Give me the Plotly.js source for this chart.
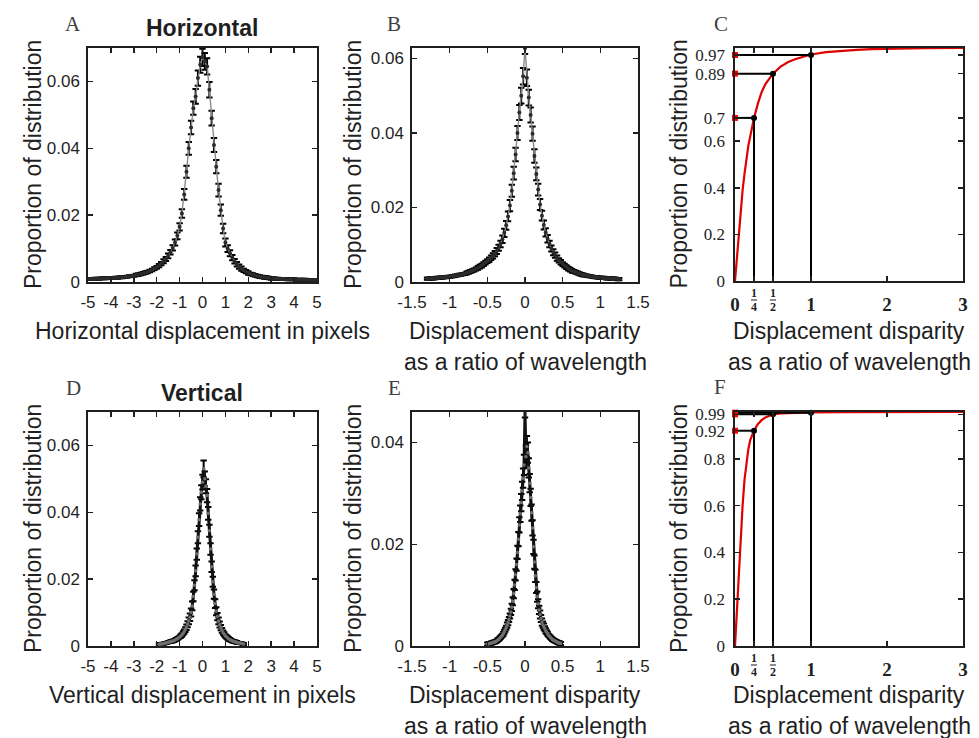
<!DOCTYPE html>
<html><head><meta charset="utf-8">
<script src="https://cdn.plot.ly/plotly-3.0.1.min.js"></script>
<style>html,body{margin:0;padding:0;background:#fff}#chart{width:979px;height:738px}</style>
</head><body><div id="chart"></div>
<script>
// ---------- DATA ----------
// Panel A: horizontal displacement (pixels), bins start/step
const horizBinStart = -5, horizBinStep = 0.1;
const horizProportion = [
 .0009,.0009,.0009,.0010,.0010,.0010,.0011,.0011,.0011,.0012,
 .0012,.0012,.0013,.0013,.0014,.0014,.0015,.0016,.0017,.0018,
 .0019,.0021,.0022,.0024,.0026,.0028,.0030,.0033,.0036,.0040,
 .0044,.0049,.0055,.0062,.0069,.0078,.0089,.0102,.0118,.0138,
 .0165,.0205,.0262,.0330,.0400,.0462,.0520,.0555,.0610,.0650,
 .0672,
 .0660,.0645,.0575,.0490,.0410,.0345,.0275,.0215,.0160,.0118,
 .0100,.0086,.0073,.0062,.0053,.0046,.0040,.0035,.0031,.0027,
 .0024,.0022,.0020,.0018,.0016,.0015,.0014,.0013,.0012,.0011,
 .0011,.0010,.0010,.0009,.0009,.0009,.0008,.0008,.0008,.0008,
 .0007,.0007,.0007,.0007,.0007,.0006,.0006,.0006,.0006,.0006];
const horizError = [
 .0003,.0003,.0003,.0003,.0003,.0003,.0003,.0003,.0003,.0003,
 .0003,.0003,.0003,.0003,.0003,.0003,.0003,.0003,.0003,.0003,
 .0003,.0004,.0004,.0004,.0004,.0004,.0004,.0004,.0004,.0004,
 .0004,.0005,.0005,.0006,.0006,.0007,.0007,.0008,.0009,.0010,
 .0011,.0013,.0016,.0018,.0019,.0020,.0020,.0022,.0023,.0024,
 .0026,
 .0025,.0024,.0023,.0022,.0021,.0020,.0019,.0017,.0014,.0012,
 .0010,.0009,.0008,.0007,.0007,.0006,.0006,.0005,.0005,.0005,
 .0004,.0004,.0004,.0004,.0004,.0004,.0004,.0004,.0004,.0004,
 .0003,.0003,.0003,.0003,.0003,.0003,.0003,.0003,.0003,.0003,
 .0003,.0003,.0003,.0003,.0003,.0003,.0003,.0003,.0003,.0003];

// Panel B: horizontal displacement disparity (ratio of wavelength)
const horizDispBinStart = -1.3, horizDispBinStep = 0.025;
const horizDispProportion = [
 .0009,.0009,.0010,.0010,.0010,.0011,.0011,.0012,.0012,.0013,
 .0013,.0014,.0014,.0015,.0016,.0017,.0018,.0019,.0020,.0021,
 .0022,.0024,.0026,.0028,.0030,.0032,.0035,.0038,.0041,.0044,
 .0048,.0052,.0056,.0060,.0065,.0070,.0076,.0083,.0092,.0102,
 .0115,.0132,.0152,.0176,.0205,.0245,.0292,.0342,.0400,.0455,
 .0500,.0552,.0627,
 .0548,.0495,.0448,.0398,.0338,.0290,.0248,.0208,.0178,.0153,
 .0133,.0116,.0102,.0090,.0080,.0072,.0064,.0058,.0053,.0048,
 .0044,.0040,.0036,.0033,.0030,.0028,.0026,.0024,.0022,.0020,
 .0019,.0018,.0017,.0016,.0015,.0014,.0013,.0013,.0012,.0012,
 .0011,.0011,.0010,.0010,.0010,.0009,.0009,.0009,.0008,.0008];
const horizDispError = [
 .0003,.0003,.0003,.0003,.0003,.0003,.0003,.0003,.0003,.0003,
 .0003,.0003,.0003,.0003,.0003,.0003,.0003,.0003,.0003,.0003,
 .0003,.0004,.0004,.0004,.0004,.0004,.0004,.0005,.0005,.0005,
 .0005,.0005,.0005,.0006,.0006,.0007,.0007,.0008,.0008,.0009,
 .0010,.0011,.0012,.0013,.0015,.0016,.0017,.0018,.0019,.0020,
 .0021,.0022,.0015,
 .0022,.0021,.0020,.0019,.0018,.0017,.0016,.0015,.0013,.0012,
 .0011,.0010,.0009,.0008,.0008,.0007,.0007,.0006,.0006,.0005,
 .0005,.0005,.0005,.0005,.0005,.0004,.0004,.0004,.0004,.0004,
 .0004,.0003,.0003,.0003,.0003,.0003,.0003,.0003,.0003,.0003,
 .0003,.0003,.0003,.0003,.0003,.0003,.0003,.0003,.0003,.0003];

// Panel C: cumulative distribution of |horizontal disparity|
const horizCdfX = [0,0.025,0.05,0.075,0.1,0.125,0.15,0.175,0.2,0.225,0.25,0.3,0.35,0.4,0.45,0.5,0.6,0.7,0.8,0.9,1.0,1.2,1.4,1.6,1.8,2.0,2.5,3.0];
const horizCdfY = [0,0.1,0.2,0.3,0.39,0.46,0.53,0.58,0.62,0.665,0.70,0.76,0.81,0.845,0.87,0.89,0.92,0.94,0.953,0.963,0.972,0.982,0.988,0.992,0.995,0.997,0.999,1.0];
const horizMarkX = [0.25, 0.5, 1];
const horizMarkY = [0.70, 0.89, 0.97];
const horizCdfYTicks = [0, 0.2, 0.4, 0.6, 0.7, 0.89, 0.97];
const horizCdfYLabels = ['0','0.2','0.4','0.6','0.7','0.89','0.97'];

// Panel D: vertical displacement (pixels)
const vertBinStart = -1.9, vertBinStep = 0.05;
const vertProportion = [
 .0005,.0006,.0006,.0007,.0007,.0008,.0009,.0010,.0011,.0012,
 .0013,.0014,.0015,.0016,.0018,.0020,.0022,.0024,.0027,.0030,
 .0033,.0038,.0043,.0049,.0056,.0065,.0075,.0086,.0100,.0120,
 .0148,.0182,.0225,.0275,.0325,.0378,.0425,.0460,
 .0490,.0530,.0500,.0478,.0450,.0397,.0345,.0290,.0237,.0192,
 .0155,.0127,.0104,.0088,.0075,.0064,.0055,.0047,.0040,.0035,
 .0030,.0027,.0024,.0021,.0019,.0017,.0015,.0014,.0013,.0012,
 .0011,.0010,.0009,.0009,.0008,.0007,.0006];
const vertError = [
 .0003,.0003,.0003,.0003,.0003,.0003,.0003,.0003,.0003,.0003,
 .0004,.0004,.0004,.0004,.0004,.0004,.0004,.0004,.0004,
 .0005,.0005,.0006,.0006,.0007,.0008,.0009,.0010,.0011,
 .0012,.0013,.0014,.0015,.0016,.0017,.0018,.0019,.0020,.0021,
 .0022,.0025,.0022,.0021,.0020,.0019,.0018,.0017,.0016,.0015,.0014,
 .0013,.0012,.0011,.0010,.0009,.0008,.0007,.0006,.0006,
 .0005,.0005,.0005,.0005,.0005,.0004,.0004,.0004,.0004,.0004,.0004,
 .0003,.0003,.0003,.0003,.0003,.0003];

// Panel E: vertical displacement disparity (ratio of wavelength)
const vertDispBinStart = -0.5, vertDispBinStep = 0.0125;
const vertDispProportion = [
 .0004,.0004,.0005,.0005,.0006,.0006,.0007,.0008,.0008,.0009,
 .0010,.0012,.0013,.0015,.0017,.0019,.0021,.0024,.0028,.0032,
 .0036,.0041,.0046,.0052,.0059,.0067,.0076,.0088,.0103,.0120,
 .0140,.0160,.0184,.0210,.0238,.0260,.0282,.0305,.0330,.0356,
 .0459,
 .0372,.0392,.0380,.0350,.0320,.0292,.0262,.0232,.0195,.0165,
 .0138,.0115,.0097,.0083,.0071,.0062,.0054,.0047,.0042,.0038,
 .0034,.0030,.0027,.0024,.0021,.0019,.0017,.0015,.0013,.0012,
 .0011,.0010,.0009,.0008,.0007,.0006,.0006,.0005];
const vertDispError = [
 .0003,.0003,.0003,.0003,.0003,.0003,.0003,.0003,.0003,.0003,
 .0003,.0003,.0003,.0003,.0003,.0003,.0003,
 .0004,.0004,.0004,.0004,.0005,.0005,.0005,.0005,
 .0006,.0007,.0008,.0009,.0010,.0011,.0012,.0013,.0014,.0015,
 .0016,.0017,.0018,.0019,.0020,
 .0010,
 .0022,.0021,.0020,.0019,.0018,.0017,.0016,.0015,.0014,.0013,
 .0012,.0011,.0010,.0009,
 .0008,.0008,.0007,.0007,.0006,.0006,.0005,.0005,.0004,.0004,
 .0003,.0003,.0003,.0003,.0003,.0003,.0003,.0003,.0003,.0003,
 .0003,.0003,.0003,.0003];

// Panel F: cumulative distribution of |vertical disparity|
const vertCdfX = [0,0.0125,0.025,0.0375,0.05,0.075,0.1,0.125,0.15,0.175,0.2,0.25,0.3,0.35,0.4,0.5,0.6,0.8,1.0,1.5,2.0,3.0];
const vertCdfY = [0,0.08,0.15,0.22,0.3,0.45,0.6,0.71,0.79,0.84,0.88,0.92,0.948,0.965,0.977,0.99,0.994,0.997,0.998,0.999,1.0,1.0];
const vertMarkX = [0.25, 0.5, 1];
const vertMarkY = [0.92, 0.99, 0.997];
const vertCdfYTicks = [0, 0.2, 0.4, 0.6, 0.8, 0.92, 0.99];
const vertCdfYLabels = ['0','0.2','0.4','0.6','0.8','0.92','0.99'];

// Tick labels
const pixelTicks = [-5,-4,-3,-2,-1,0,1,2,3,4,5];
const pixelTickLabels = ['-5','-4','-3','-2','-1','0','1','2','3','4','5'];
const ratioTicks = [-1.5,-1,-0.5,0,0.5,1,1.5];
const ratioTickLabels = ['-1.5','-1','-0.5','0','0.5','1','1.5'];
const propTicks = [0,0.02,0.04,0.06];
const propTickLabels = ['0','0.02','0.04','0.06'];
const cdfXTicks = [0,0.25,0.5,1,2,3];
const cdfXTickLabels = ['0','','','1','2','3'];
const fracTickVals = [0.25, 0.5];
const fracNumer = ['1','1'];
const fracDenom = ['4','2'];

// Texts
const panelLetters = ['A','B','C','D','E','F'];
const rowTitles = ['Horizontal','Vertical'];
const yTitle = 'Proportion of distribution';
const xTitlesPixels = ['Horizontal displacement in pixels','Vertical displacement in pixels'];
const xTitleRatio = ['Displacement disparity','as a ratio of wavelength'];

// ---------- LAYOUT ----------
const W = 979, H = 738;
const px = v => v / W, py = v => 1 - v / H;
// plot boxes in pixels [left,right,top,bottom]
const boxes = [[88,317,48,282],[412,638,48,282],[735,963,48,281],[88,317,412,646],[412,638,412,646],[735,963,412,646]];

function bins(start, step, n){ const a=[]; for(let i=0;i<n;i++) a.push(+(start+i*step).toFixed(5)); return a; }

const sans = 'Liberation Sans, Arial, Helvetica, sans-serif';
const serif = 'Liberation Serif, Times New Roman, serif';
const ink = '#1f1f1f';

const axisBase = {showline:true, mirror:'ticks', linecolor:ink, linewidth:1.7, ticks:'inside', ticklen:5,
  tickwidth:1.5, tickcolor:ink, showgrid:false, zeroline:false, fixedrange:true,
  tickfont:{family:sans, size:17, color:ink}};

const layout = {width:W, height:H, margin:{l:0,r:0,t:0,b:0}, paper_bgcolor:'#fff', plot_bgcolor:'#fff',
  showlegend:false, annotations:[], shapes:[]};

function ax(i){ return i===0 ? '' : String(i+1); }

boxes.forEach((b,i)=>{
  layout['xaxis'+ax(i)] = Object.assign({}, axisBase, {domain:[px(b[0]),px(b[1])], anchor:'y'+ax(i), ticklabelstandoff:4});
  layout['yaxis'+ax(i)] = Object.assign({}, axisBase, {domain:[py(b[3]),py(b[2])], anchor:'x'+ax(i), ticklabelstandoff:3});
});

[0,3].forEach(i=>{
  Object.assign(layout['xaxis'+ax(i)], {range:[-5,5], tickvals:pixelTicks, ticktext:pixelTickLabels});
  Object.assign(layout['yaxis'+ax(i)], {range:[0,0.07], tickvals:propTicks, ticktext:propTickLabels});
});
[1,4].forEach(i=>{
  Object.assign(layout['xaxis'+ax(i)], {range:[-1.5,1.5], tickvals:ratioTicks, ticktext:ratioTickLabels});
});
Object.assign(layout.yaxis2, {range:[0,0.0628], tickvals:propTicks, ticktext:propTickLabels});
Object.assign(layout.yaxis5, {range:[0,0.046], tickvals:propTicks.slice(0,3), ticktext:propTickLabels.slice(0,3)});

const cdfXFont = {family:serif, size:19, color:ink, weight:'bold'};
const cdfYFont = {family:serif, size:17, color:ink};
[[2,horizCdfYTicks,horizCdfYLabels],[5,vertCdfYTicks,vertCdfYLabels]].forEach(([i,tv,tt])=>{
  Object.assign(layout['xaxis'+ax(i)], {range:[0,3], tickvals:cdfXTicks, ticktext:cdfXTickLabels, tickfont:cdfXFont, ticklabelstandoff:5});
  Object.assign(layout['yaxis'+ax(i)], {range:[0,1], tickvals:tv, ticktext:tt, tickfont:cdfYFont, ticklabelstandoff:5});
});

// ---------- TRACES ----------
const traces = [];
function distTrace(start, step, y, err, i, dense){
  return {type:'scatter', mode:'lines+markers', x:bins(start,step,y.length), y:y,
    xaxis:'x'+ax(i), yaxis:'y'+ax(i),
    line: dense ? {color:'#111', width:3} : {color:'#8a8a8a', width:1.4},
    marker: dense ? {color:'#6e6e6e', size:3.5} : {color:'#2b2b2b', size:4},
    error_y:{type:'data', array:err, visible:true, color:'#000', thickness:2, width:3.2},
    hoverinfo:'skip', showlegend:false};
}
traces.push(distTrace(horizBinStart, horizBinStep, horizProportion, horizError, 0, false));
traces.push(distTrace(horizDispBinStart, horizDispBinStep, horizDispProportion, horizDispError, 1, false));
traces.push(distTrace(vertBinStart, vertBinStep, vertProportion, vertError, 3, true));
traces.push(distTrace(vertDispBinStart, vertDispBinStep, vertDispProportion, vertDispError, 4, true));

function cdfTraces(cx, cy, mx, my, i){
  const xa = 'x'+ax(i), ya = 'y'+ax(i);
  const vx=[], vy=[], hx=[], hy=[];
  mx.forEach((x,k)=>{ vx.push(x,x,null); vy.push(0,my[k],null); hx.push(0,x,null); hy.push(my[k],my[k],null); });
  return [
    {type:'scatter', mode:'lines', x:cx, y:cy, xaxis:xa, yaxis:ya, line:{color:'#e00000', width:2.2}, hoverinfo:'skip'},
    {type:'scatter', mode:'lines', x:vx, y:vy, xaxis:xa, yaxis:ya, line:{color:'#000', width:2}, hoverinfo:'skip', cliponaxis:false},
    {type:'scatter', mode:'lines', x:hx, y:hy, xaxis:xa, yaxis:ya, line:{color:'#000', width:2}, hoverinfo:'skip', cliponaxis:false},
    {type:'scatter', mode:'markers', x:mx, y:my, xaxis:xa, yaxis:ya, marker:{color:'#000', size:6}, hoverinfo:'skip', cliponaxis:false},
    {type:'scatter', mode:'markers', x:mx.map(()=>0), y:my, xaxis:xa, yaxis:ya, marker:{color:'#ff0000', size:6, symbol:'square'}, hoverinfo:'skip', cliponaxis:false}
  ];
}
traces.push(...cdfTraces(horizCdfX, horizCdfY, horizMarkX, horizMarkY, 2));
traces.push(...cdfTraces(vertCdfX, vertCdfY, vertMarkX, vertMarkY, 5));

// ---------- ANNOTATIONS ----------
const A = layout.annotations, S = layout.shapes;
const letterPos = [[73,24],[394,24],[721,24],[73,388],[394,388],[720,387]];
panelLetters.forEach((t,k)=>A.push({text:t, xref:'paper', yref:'paper', x:px(letterPos[k][0]), y:py(letterPos[k][1]),
  showarrow:false, xanchor:'center', yanchor:'middle', font:{family:serif, size:21, color:'#404040'}}));
rowTitles.forEach((t,k)=>A.push({text:'<b>'+t+'</b>', xref:'paper', yref:'paper', x:px(202), y:py(k===0?28:393),
  showarrow:false, xanchor:'center', yanchor:'middle', font:{family:sans, size:23, color:ink}}));
const yTitleX = [33, 353, 679];
boxes.forEach((b,i)=>{
  const mid = (b[2]+b[3])/2;
  A.push({text:yTitle, textangle:-90, xref:'paper', yref:'paper', x:px(yTitleX[i%3]), y:py(mid), showarrow:false,
    xanchor:'center', yanchor:'middle', font:{family:sans, size:23, color:ink}});
  const cx = (b[0]+b[1])/2, row = i<3 ? 0 : 1, base = row===0 ? 331 : 695;
  if(i%3===0){
    A.push({text:xTitlesPixels[row], xref:'paper', yref:'paper', x:px(cx), y:py(base), showarrow:false,
      xanchor:'center', yanchor:'middle', font:{family:sans, size:23, color:ink}});
  } else {
    xTitleRatio.forEach((t,l)=>A.push({text:t, xref:'paper', yref:'paper', x:px(cx), y:py(base+31*l), showarrow:false,
      xanchor:'center', yanchor:'middle', font:{family:sans, size:23, color:ink}}));
  }
});
// fraction tick labels on CDF panels
[2,5].forEach(i=>{
  const lblY = boxes[i][3] + 19;
  fracTickVals.forEach((v,k)=>{
    A.push({text:'<b>'+fracNumer[k]+'</b>', xref:'x'+ax(i), yref:'paper', x:v, y:py(lblY-7), showarrow:false,
      xanchor:'center', yanchor:'middle', font:{family:serif, size:12, color:ink}});
    A.push({text:'<b>'+fracDenom[k]+'</b>', xref:'x'+ax(i), yref:'paper', x:v, y:py(lblY+7), showarrow:false,
      xanchor:'center', yanchor:'middle', font:{family:serif, size:12, color:ink}});
    S.push({type:'line', xref:'x'+ax(i), yref:'paper', x0:v-0.04, x1:v+0.04, y0:py(lblY), y1:py(lblY), line:{color:ink, width:1}});
  });
});

Plotly.newPlot('chart', traces, layout, {staticPlot:true, displayModeBar:false});
</script>
</body></html>
